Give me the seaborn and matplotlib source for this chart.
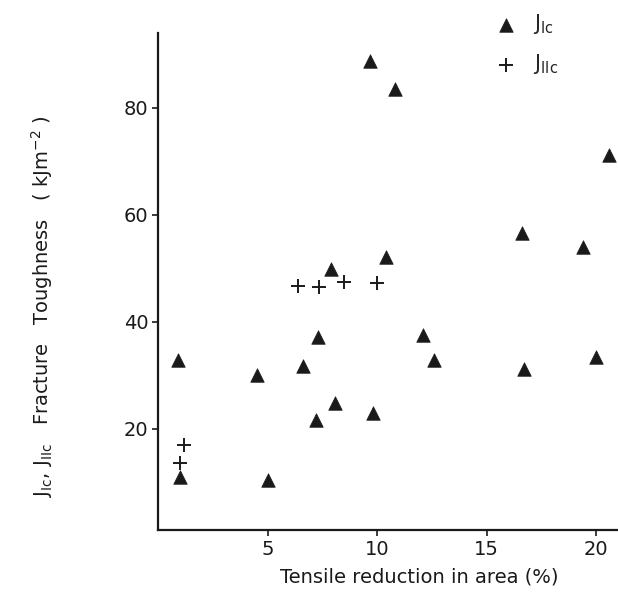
#!/usr/bin/env python3
"""Fracture toughness J_Ic / J_IIc against tensile reduction in area."""

import matplotlib

matplotlib.use("Agg")
import matplotlib.pyplot as plt
import pandas as pd
import seaborn as sns

# J_Ic points (triangles)
jic_reduction = [0.9, 1.0, 4.5, 5.0, 6.6, 7.2, 7.3, 7.9, 8.1, 9.7, 9.8, 10.4,
                 10.8, 12.1, 12.6, 16.6, 16.7, 19.4, 20.0, 20.6]
jic_toughness = [32.8, 11.0, 30.0, 10.3, 31.7, 21.6, 37.2, 49.8, 24.8, 88.8,
                 23.0, 52.1, 83.6, 37.5, 32.8, 56.5, 31.2, 53.9, 33.4, 71.1]

# J_IIc points (plus signs)
jiic_reduction = [1.0, 1.2, 6.4, 7.35, 8.5, 10.0]
jiic_toughness = [13.6, 17.0, 46.6, 46.5, 47.4, 47.2]

x_ticks = [5, 10, 15, 20]
y_ticks = [20, 40, 60, 80]

jic = pd.DataFrame({"reduction": jic_reduction, "toughness": jic_toughness})
jiic = pd.DataFrame({"reduction": jiic_reduction, "toughness": jiic_toughness})

sns.set_theme(style="ticks")
plt.rcParams["font.family"] = ["DejaVu Sans"]

fig = plt.figure(figsize=(6.18, 5.97), dpi=100)
ax = fig.add_axes([0.2557, 0.112, 0.7443, 0.8327])

sns.scatterplot(data=jic, x="reduction", y="toughness", marker="^", s=95,
                color="#1a1a1a", edgecolor="#1a1a1a", linewidth=0.5,
                label=r"$\mathrm{J_{Ic}}$", ax=ax)
sns.scatterplot(data=jiic, x="reduction", y="toughness", marker="+", s=110,
                color="#1a1a1a", linewidth=1.4,
                label=r"$\mathrm{J_{IIc}}$", ax=ax)

ax.set_xlim(0, 21)
ax.set_ylim(1, 94)
ax.set_xticks(x_ticks)
ax.set_yticks(y_ticks)
ax.tick_params(labelsize=14, length=4, width=1.2, color="#1a1a1a",
               labelcolor="#1a1a1a", pad=3)
for side in ("top", "right"):
    ax.spines[side].set_visible(False)
for side in ("left", "bottom"):
    ax.spines[side].set_linewidth(1.6)
    ax.spines[side].set_color("#1a1a1a")

ax.set_xlabel("Tensile reduction in area (%)", fontsize=14, color="#1a1a1a")
ax.set_ylabel(r"$\mathrm{J_{Ic}}$, $\mathrm{J_{IIc}}$   Fracture   Toughness   ( kJm$^{-2}$ )",
              fontsize=14, color="#1a1a1a")
ax.xaxis.set_label_coords(0.567, -0.075)
ax.yaxis.set_label_coords(-0.225, 0.45)

ax.legend(loc="upper left", bbox_to_anchor=(0.765, 1.0),
          bbox_transform=fig.transFigure, frameon=False, fontsize=15,
          handletextpad=0.3, labelspacing=0.75, borderaxespad=0.2)

fig.savefig("out.png", dpi=100)
